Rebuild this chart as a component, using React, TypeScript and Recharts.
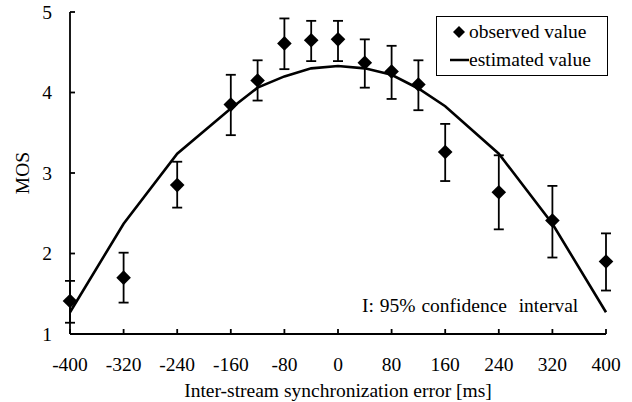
import {
  ComposedChart,
  Line,
  Scatter,
  ErrorBar,
  XAxis,
  YAxis,
  Legend,
} from "recharts"

const offsets = [-400, -320, -240, -160, -120, -80, -40, 0, 40, 80, 120, 160, 240, 320, 400]
const observed = [1.41, 1.7, 2.85, 3.85, 4.15, 4.61, 4.65, 4.66, 4.37, 4.26, 4.1, 3.26, 2.76, 2.41, 1.9]
const ciLow = [1.14, 1.39, 2.57, 3.47, 3.9, 4.29, 4.39, 4.39, 4.06, 3.92, 3.78, 2.9, 2.3, 1.95, 1.54]
const ciHigh = [1.66, 2.01, 3.14, 4.22, 4.4, 4.92, 4.89, 4.89, 4.66, 4.58, 4.4, 3.61, 3.22, 2.84, 2.25]
const estimated = [1.27, 2.37, 3.24, 3.8, 4.06, 4.2, 4.3, 4.33, 4.3, 4.22, 4.05, 3.83, 3.24, 2.37, 1.27]

const xTicks = [-400, -320, -240, -160, -80, 0, 80, 160, 240, 320, 400]
const yTicks = [1, 2, 3, 4, 5]

const data = offsets.map((x, i) => ({
  x,
  observed: observed[i],
  estimated: estimated[i],
  ci: [observed[i] - ciLow[i], ciHigh[i] - observed[i]],
}))

const FONT = "'Liberation Serif', 'Times New Roman', serif"
const tickStyle = { fontSize: 19.5, fill: "#000", fontFamily: FONT }

const Diamond = (props: any) => {
  const { cx, cy } = props
  const r = 7.3
  return (
    <polygon
      points={`${cx},${cy - r} ${cx + r},${cy} ${cx},${cy + r} ${cx - r},${cy}`}
      fill="#000"
    />
  )
}

const LegendBox = () => (
  <div
    style={{
      border: "1.5px solid #000",
      background: "#fff",
      width: 172,
      height: 60,
      boxSizing: "border-box",
      fontFamily: FONT,
      fontSize: 19.5,
      color: "#000",
      lineHeight: "28px",
      paddingTop: 1,
    }}
  >
    <div style={{ display: "flex", alignItems: "center" }}>
      <svg width={32} height={20}>
        <polygon points="22,4 28,10 22,16 16,10" fill="#000" />
      </svg>
      <span>observed value</span>
    </div>
    <div style={{ display: "flex", alignItems: "center" }}>
      <svg width={32} height={20}>
        <line x1={13} y1={10} x2={32} y2={10} stroke="#000" strokeWidth={2.5} />
      </svg>
      <span>estimated value</span>
    </div>
  </div>
)

export default function App() {
  return (
    <div
      style={{
        position: "absolute",
        left: 0,
        top: 0,
        width: 632,
        height: 402,
        background: "#fff",
        fontFamily: FONT,
      }}
    >
      <ComposedChart
        width={632}
        height={402}
        data={data}
        margin={{ top: 12, right: 26, bottom: 0, left: 0 }}
      >
        <XAxis
          dataKey="x"
          type="number"
          domain={[-400, 400]}
          ticks={xTicks}
          interval={0}
          height={68}
          stroke="#000"
          strokeWidth={1.8}
          tickSize={-5}
          tickMargin={28}
          tick={tickStyle}
          label={{
            value: "Inter-stream synchronization error [ms]",
            position: "insideBottom",
            offset: 5,
            style: { fontSize: 19.5, fill: "#000", fontFamily: FONT },
          }}
        />
        <YAxis
          type="number"
          domain={[1, 5]}
          ticks={yTicks}
          interval={0}
          width={70}
          stroke="#000"
          strokeWidth={1.8}
          tickSize={-5}
          tickMargin={23}
          tick={tickStyle}
          label={{
            value: "MOS",
            angle: -90,
            position: "insideLeft",
            offset: 22,
            style: { fontSize: 19.5, fill: "#000", fontFamily: FONT, textAnchor: "middle" },
          }}
        />
        <Legend
          layout="vertical"
          align="center"
          verticalAlign="middle"
          wrapperStyle={{ position: "absolute", left: 436, top: 16, width: 172 }}
          content={() => <LegendBox />}
        />
        <Line
          dataKey="estimated"
          name="estimated value"
          type="linear"
          stroke="#000"
          strokeWidth={2.6}
          dot={false}
          activeDot={false}
          isAnimationActive={false}
        />
        <Scatter
          dataKey="observed"
          name="observed value"
          fill="#000"
          shape={Diamond}
          isAnimationActive={false}
        >
          <ErrorBar
            dataKey="ci"
            direction="y"
            width={5}
            stroke="#000"
            strokeWidth={1.8}
            isAnimationActive={false}
          />
        </Scatter>
      </ComposedChart>
      <div
        style={{
          position: "absolute",
          left: 362,
          top: 295,
          fontSize: 19.5,
          color: "#000",
          whiteSpace: "pre",
          lineHeight: "22px",
          wordSpacing: 1,
        }}
      >
        {"I: 95% confidence  interval"}
      </div>
    </div>
  )
}
